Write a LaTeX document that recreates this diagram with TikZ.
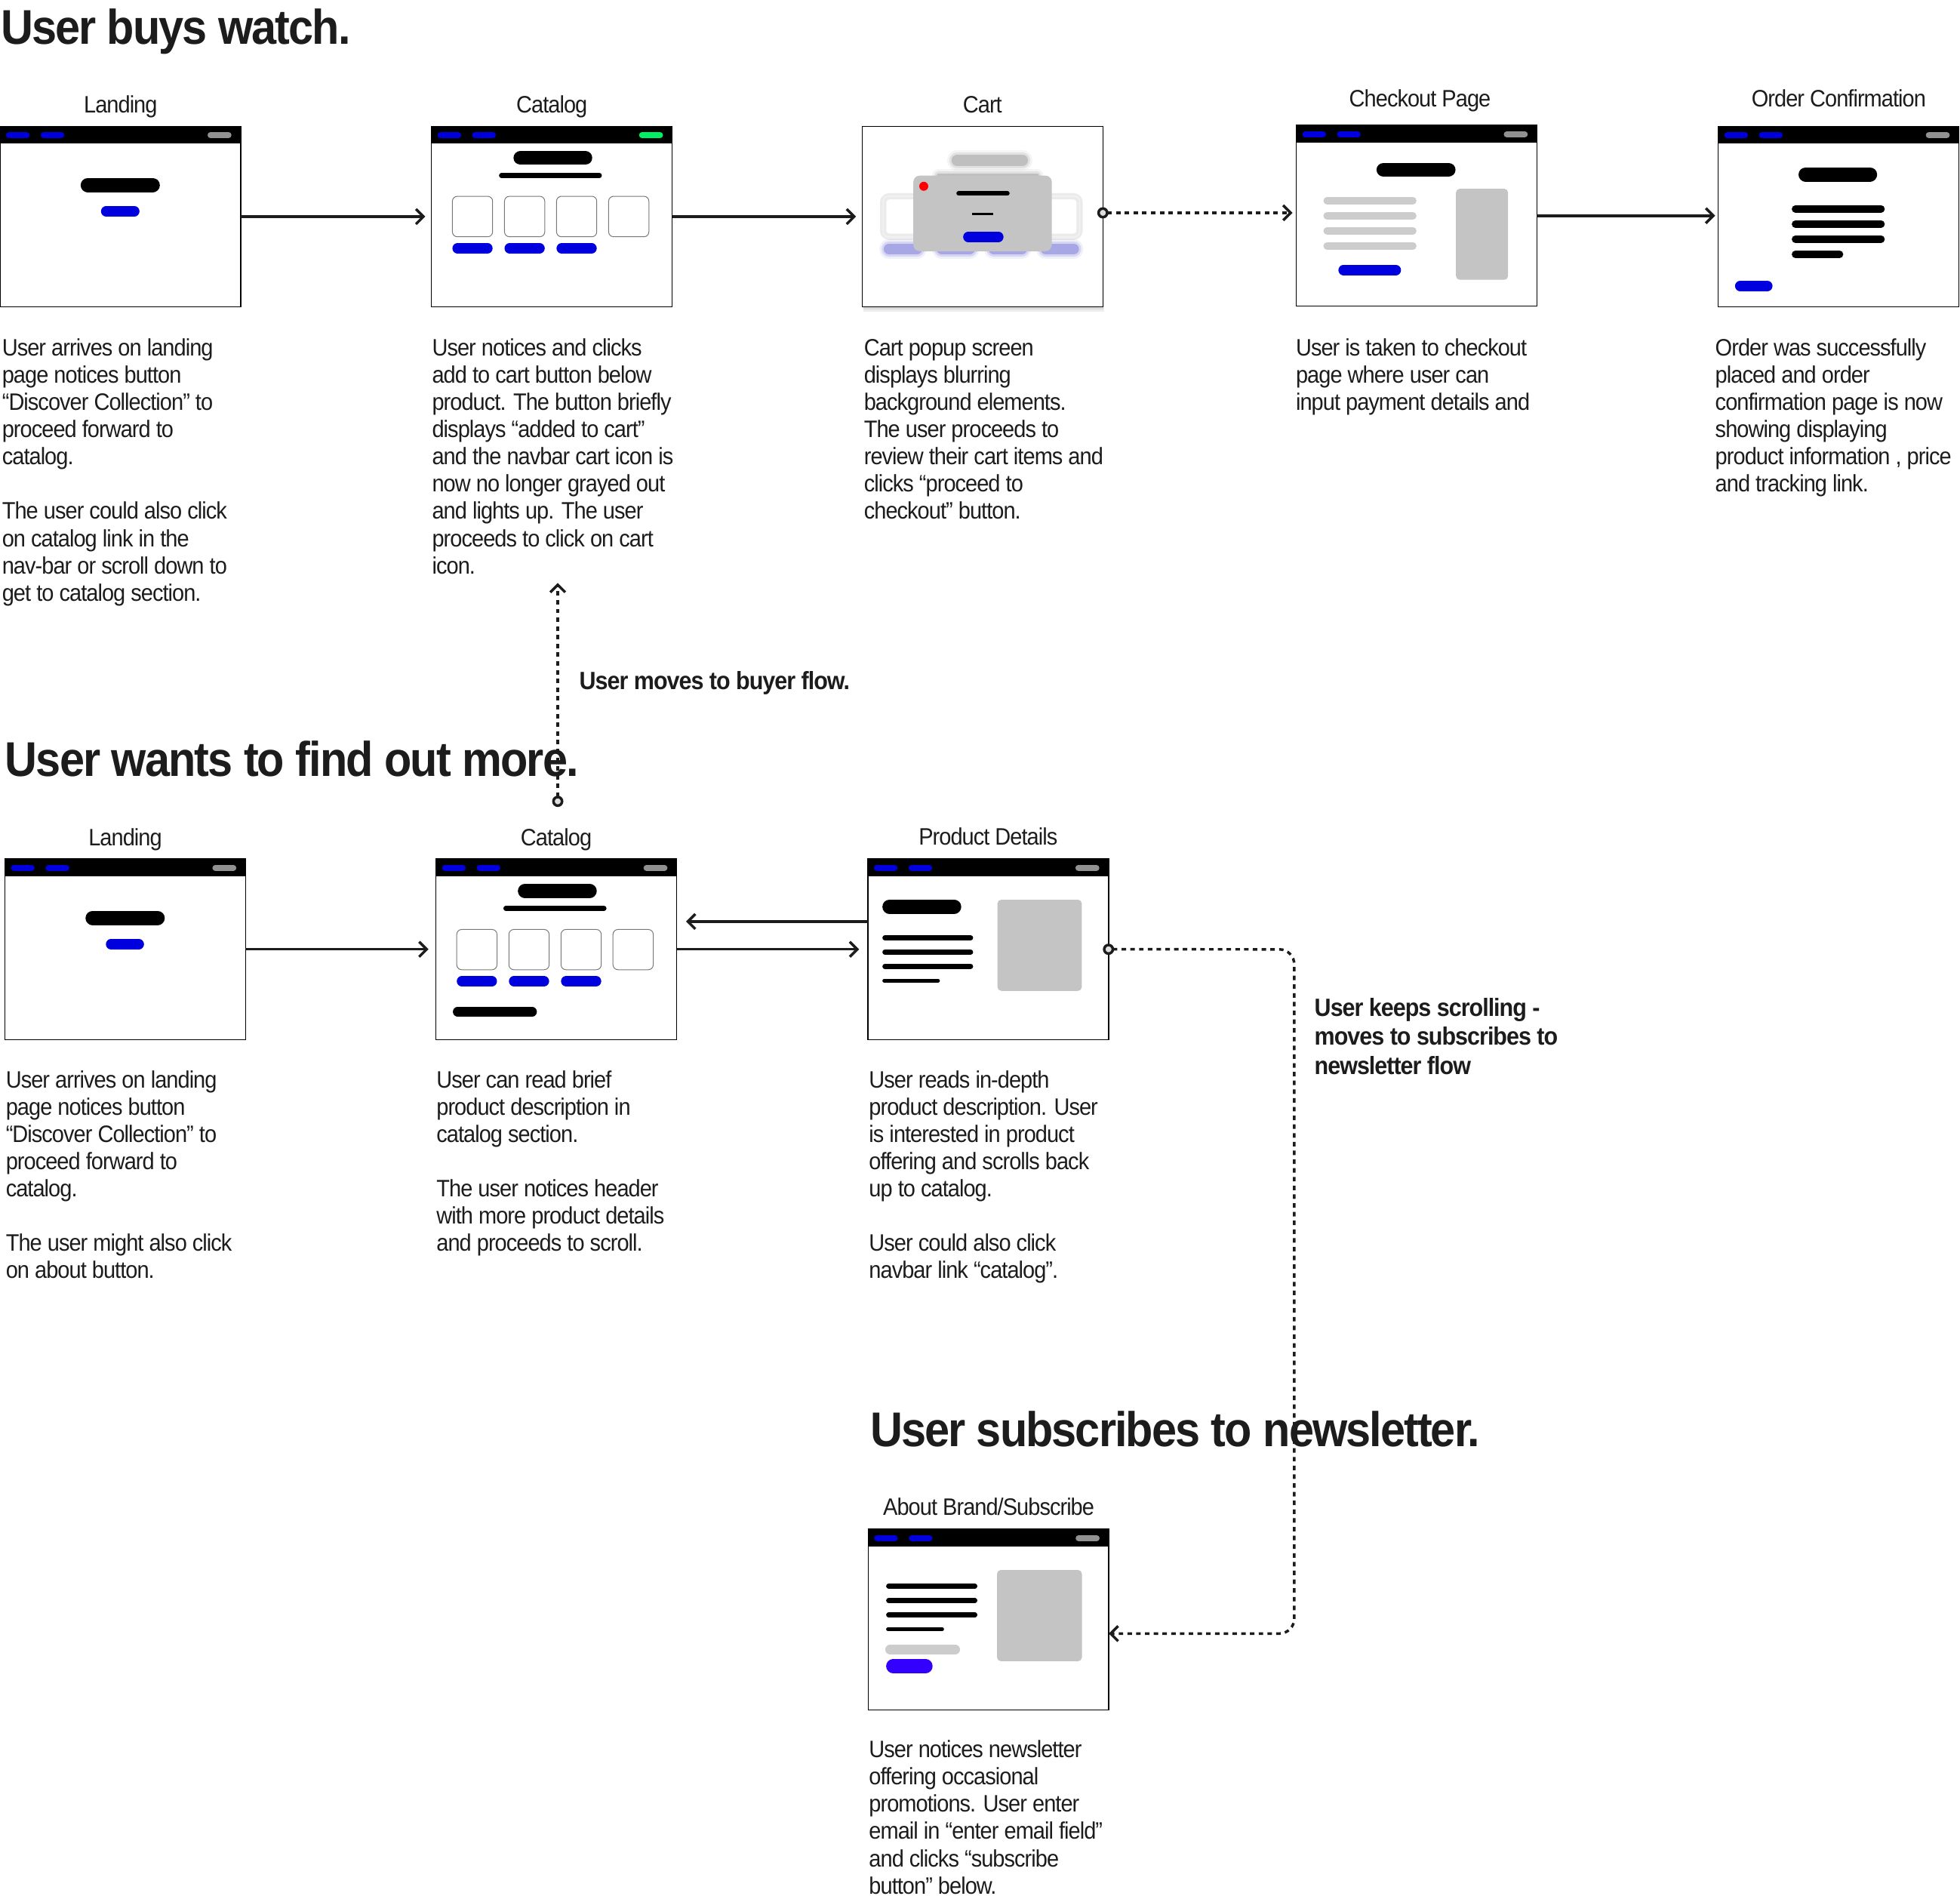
\documentclass[tikz,border=0pt]{standalone}
\usepackage{fontspec}
\setmainfont[FakeStretch=0.92,LetterSpace=-3]{Liberation Sans}
\usetikzlibrary{arrows.meta,positioning}

\definecolor{ink}{RGB}{28,28,28}
\definecolor{navblue}{RGB}{0,0,222}
\definecolor{navgray}{RGB}{145,145,145}
\definecolor{navgreen}{RGB}{0,240,100}
\definecolor{boxgray}{RGB}{196,196,196}
\definecolor{linegray}{RGB}{204,204,204}
\definecolor{violet}{RGB}{51,0,255}
\definecolor{blurblue}{RGB}{110,110,215}
\definecolor{blurgray}{RGB}{150,150,150}
\definecolor{cardline}{RGB}{120,120,120}
\definecolor{dotfill}{RGB}{222,222,222}

% rounded bar: colour, x1, x2, y centre, height
\newcommand{\pill}[5]{\draw[#1, line width=#5pt, line cap=round] ({#2+#5/2},#4) -- ({#3-#5/2},#4);}
\newcommand{\blurpill}[5]{%
  \foreach \g/\o in {7/0.1, 3.5/0.2, 0/0.45}{%
    \pgfmathsetmacro\lw{#5+\g}
    \draw[#1, opacity=\o, line width=\lw pt, line cap=round] ({#2+#5/2},#4) -- ({#3-#5/2},#4);}}
\newcommand{\navbar}[1]{%
  \fill[black] (0,0) rectangle (192.5,13.7);
  \pill{navblue}{4.8}{23.8}{7.1}{4.8}
  \pill{navblue}{32.5}{51.5}{7.1}{4.8}
  \pill{#1}{166}{185.2}{7.1}{4.8}}

\begin{document}
\begin{tikzpicture}[x=1pt, y=-1pt,
    screen/.style={draw=black, line width=0.9pt, fill=white, anchor=north west, inner sep=0pt, outer sep=0pt,
                   minimum width=192.5pt, minimum height=144.5pt},
    title/.style={anchor=base, inner sep=0pt, text=ink, font=\fontsize{19}{22}\selectfont},
    note/.style={anchor=north west, align=left, inner sep=0pt, text=ink, font=\fontsize{19}{21.8}\selectfont},
    heading/.style={anchor=base west, inner sep=0pt, text=ink, font=\bfseries\fontsize{39}{44}\selectfont},
    remark/.style={anchor=north west, align=left, inner sep=0pt, text=ink, font=\bfseries\fontsize{20}{23}\selectfont},
    flow/.style={draw=ink, line width=2.1pt, -{Straight Barb[length=6pt, width=12pt]}, shorten >=5pt},
    flowdot/.style={flow, dash pattern=on 3.6pt off 3.4pt,
                    {Circle[length=9pt, fill=dotfill]}-{Straight Barb[length=6pt, width=12pt]}, shorten <=-4.5pt}]

    \useasboundingbox (0,0) rectangle (1568,1516.07);

    % ---------- User buys watch ----------
    \node[heading] (buyhead) at (0.5, 35.2) {User buys watch.};

    \node[title] (landlbl1) at (96.5, 90) {Landing};
    \node[title] (catlbl1) at (441.5, 90) {Catalog};
    \node[title] (cartlbl) at (786, 90) {Cart};
    \node[title] (chklbl) at (1136, 85.5) {Checkout Page};
    \node[title] (ordlbl) at (1471, 85.5) {Order Confirmation};

    \node[screen] (land1) at (0, 101) {};
    \begin{scope}[shift={(land1.north west)}]
        \navbar{navgray}
        \pill{black}{64.5}{127.9}{47}{11.5}
        \pill{navblue}{80.8}{111.6}{68}{8.2}
    \end{scope}

    \node[screen] (cat1) at (345.2, 101) {};
    \begin{scope}[shift={(cat1.north west)}]
        \navbar{navgreen}
        \pill{black}{65.6}{128.6}{25.4}{11}
        \pill{black}{54}{136.3}{39.4}{4}
        \foreach \x in {16.7, 58.4, 100, 141.7}
            \draw[cardline, line width=0.6pt, rounded corners=4pt] (\x, 56) rectangle (\x + 32.2, 88.4);
        \foreach \x in {16.7, 58.4, 100}
            {\pill{navblue}{\x}{\x + 32.2}{97.6}{8.3}}
    \end{scope}

    \fill[black, opacity=0.07] (691, 104) rectangle (883.5, 249.5);
    \fill[black, opacity=0.07] (690.5, 102.5) rectangle (883, 247.5);
    \node[screen] (cart) at (689.8, 101) {};
    \begin{scope}[shift={(cart.north west)}]
        \blurpill{blurgray}{71.4}{132.6}{27.3}{9}
        \blurpill{blurgray}{59.4}{141.4}{39.5}{3}
        \foreach \x in {16.7, 58.4, 100, 141.7}{
            \draw[black!8, line width=5pt, rounded corners=5pt] (\x, 56) rectangle (\x + 32.2, 88.4);
            \draw[black!5, line width=1pt, rounded corners=4pt] (\x, 56) rectangle (\x + 32.2, 88.4);}
        \foreach \x in {17.2, 59.4, 101, 142.6}
            {\blurpill{blurblue}{\x}{\x + 30.8}{98.2}{8.5}}
        \fill[boxgray, rounded corners=5pt] (40.9, 39.5) rectangle (151.6, 99.9);
        \fill[red] (49.2, 48) circle (3.6);
        \pill{black}{75.3}{117.9}{53.8}{3.6}
        \draw[black, line width=1.6pt] (88.1, 70.1) -- (104.9, 70.1);
        \pill{navblue}{80.7}{113}{88.5}{8.2}
    \end{scope}

    \node[screen] (chk) at (1037, 100.3) {};
    \begin{scope}[shift={(chk.north west)}]
        \navbar{navgray}
        \pill{black}{64.2}{127.4}{35.5}{11.3}
        \foreach \y in {60.2, 72.3, 84.3, 96.4}
            {\pill{linegray}{21.7}{96.2}{\y}{5.8}}
        \pill{navblue}{33.7}{83.8}{115.7}{8.3}
        \fill[boxgray, rounded corners=3pt] (127.8, 50.7) rectangle (169.4, 123.5);
    \end{scope}

    \node[screen] (ord) at (1374.6, 101) {};
    \begin{scope}[shift={(ord.north west)}]
        \navbar{navgray}
        \pill{black}{64.2}{127.1}{38.5}{11.5}
        \foreach \y in {66.1, 78.2, 90.3}
            {\pill{black}{58.8}{133.2}{\y}{5.8}}
        \pill{black}{58.8}{100}{102.4}{5.8}
        \pill{navblue}{13.4}{43.4}{127.7}{8.3}
    \end{scope}

    \draw[flow] (land1.east) -- (cat1.west);
    \draw[flow] (cat1.east) -- (cart.west);
    \coordinate (cartout) at ([shift={(0,-3)}]cart.east);
    \draw[flowdot, shorten >=3pt] (cartout) -- (cartout -| chk.west);
    \draw[flow, shorten >=2.5pt] (chk.east) -- (chk.east -| ord.west);

    \node[note] (landtxt1) at (1.5, 269.1) {\strut User arrives on landing\\page notices button\\“Discover Collection” to\\proceed forward to\\catalog.\\[21.8pt]The user could also click\\on catalog link in the\\nav-bar or scroll down to\\get to catalog section.};
    \node[note] (cattxt1) at (345.5, 269.1) {\strut User notices and clicks\\add to cart button below\\product. The button briefly\\displays “added to cart”\\and the navbar cart icon is\\now no longer grayed out\\and lights up. The user\\proceeds to click on cart\\icon.};
    \node[note] (carttxt) at (691, 269.1) {\strut Cart popup screen\\displays blurring\\background elements.\\The user proceeds to\\review their cart items and\\clicks “proceed to\\checkout” button.};
    \node[note] (chktxt) at (1036.5, 269.1) {\strut User is taken to checkout\\page where user can\\input payment details and};
    \node[note] (ordtxt) at (1372, 269.1) {\strut Order was successfully\\placed and order\\confirmation page is now\\showing displaying\\product information , price\\and tracking link.};

    % ---------- buyer flow link ----------
    \coordinate (buyfrom) at (446.2, 641);
    \coordinate (buyto) at (446.2, 466.3);
    \draw[flowdot, shorten >=0pt] (buyfrom) -- (buyto);
    \node[remark, anchor=base west] (buynote) at (463.3, 551.5) {User moves to buyer flow.};

    % ---------- User wants to find out more ----------
    \node[heading] (morehead) at (4, 620.8) {User wants to find out more.};

    \node[title] (landlbl2) at (100.2, 676.5) {Landing};
    \node[title] (catlbl2) at (445, 676.5) {Catalog};
    \node[title] (pdlbl) at (790.5, 676) {Product Details};

    \node[screen] (land2) at (3.9, 687.1) {};
    \begin{scope}[shift={(land2.north west)}]
        \navbar{navgray}
        \pill{black}{64.5}{127.9}{47.2}{11.5}
        \pill{navblue}{80.8}{111.3}{68.2}{8.2}
    \end{scope}

    \node[screen] (cat2) at (348.8, 687.1) {};
    \begin{scope}[shift={(cat2.north west)}]
        \navbar{navgray}
        \pill{black}{65.5}{128.6}{25.6}{11.2}
        \pill{black}{53.9}{136.4}{39.5}{4}
        \foreach \x in {16.6, 58.3, 100, 141.6}
            \draw[cardline, line width=0.6pt, rounded corners=4pt] (\x, 56.4) rectangle (\x + 32.2, 88.6);
        \foreach \x in {16.6, 58.3, 100}
            {\pill{navblue}{\x}{\x + 32.2}{97.8}{8.3}}
        \pill{black}{13.5}{80.7}{122.2}{7.6}
    \end{scope}

    \node[screen] (pd) at (694.3, 687.1) {};
    \begin{scope}[shift={(pd.north west)}]
        \navbar{navgray}
        \pill{black}{11.6}{74.7}{38.2}{11.3}
        \foreach \y in {63.1, 74.5, 85.9}
            {\pill{black}{11.6}{84.2}{\y}{3.9}}
        \pill{black}{11.6}{57.6}{97.3}{3}
        \fill[boxgray, rounded corners=3pt] (103.7, 32.6) rectangle (171.1, 105.5);
    \end{scope}

    \draw[flow, shorten >=6pt] (land2.east) -- (cat2.west);
    \draw[flow, shorten >=7pt] (cat2.east) -- (cat2.east -| pd.west);
    \coordinate (pdback) at ([shift={(0,-22.2)}]pd.west);
    \draw[flow, shorten >=7.5pt] (pdback) -- (pdback -| cat2.east);

    \node[note] (landtxt2) at (4.5, 854.7) {\strut User arrives on landing\\page notices button\\“Discover Collection” to\\proceed forward to\\catalog.\\[21.8pt]The user  might also click\\on about button.};
    \node[note] (cattxt2) at (349, 854.7) {\strut User can read brief\\product description in\\catalog section.\\[21.8pt]The user notices header\\with more product details\\and proceeds to scroll.};
    \node[note] (pdtxt) at (695, 854.7) {\strut User reads in-depth\\product description. User\\is interested in product\\offering and scrolls back\\up to catalog.\\[21.8pt]User could also click\\navbar link “catalog”.};

    % ---------- newsletter flow ----------
    \node[remark] (scrollnote) at (1051.4, 796.9) {\strut User keeps scrolling -\\moves to subscribes to\\newsletter flow};

    \node[heading] (newshead) at (696, 1157.3) {User subscribes to newsletter.};
    \node[title] (aboutlbl) at (791, 1212) {About Brand/Subscribe};

    \node[screen] (about) at (694.5, 1223.3) {};
    \begin{scope}[shift={(about.north west)}]
        \navbar{navgray}
        \foreach \y in {45.5, 57, 68.5}
            {\pill{black}{14.4}{87.4}{\y}{4}}
        \pill{black}{14.4}{60.7}{79.9}{2.8}
        \pill{linegray}{13.7}{73.5}{96.2}{7.6}
        \pill{violet}{14.4}{51.6}{109.5}{11.2}
        \fill[boxgray, rounded corners=3pt] (103.1, 32.6) rectangle (171, 105.5);
    \end{scope}

    \coordinate (newsturn) at (1035.4, 759.4);
    \coordinate (aboutin) at ([shift={(0,11.2)}]about.east);
    \draw[flowdot, shorten >=0pt, rounded corners=12pt] (pd.east) -- (newsturn) |- (aboutin);

    \node[note] (abouttxt) at (695, 1390.5) {\strut User notices newsletter\\offering occasional\\promotions. User enter\\email in “enter email field”\\and clicks “subscribe\\button” below.};
\end{tikzpicture}
\end{document}
